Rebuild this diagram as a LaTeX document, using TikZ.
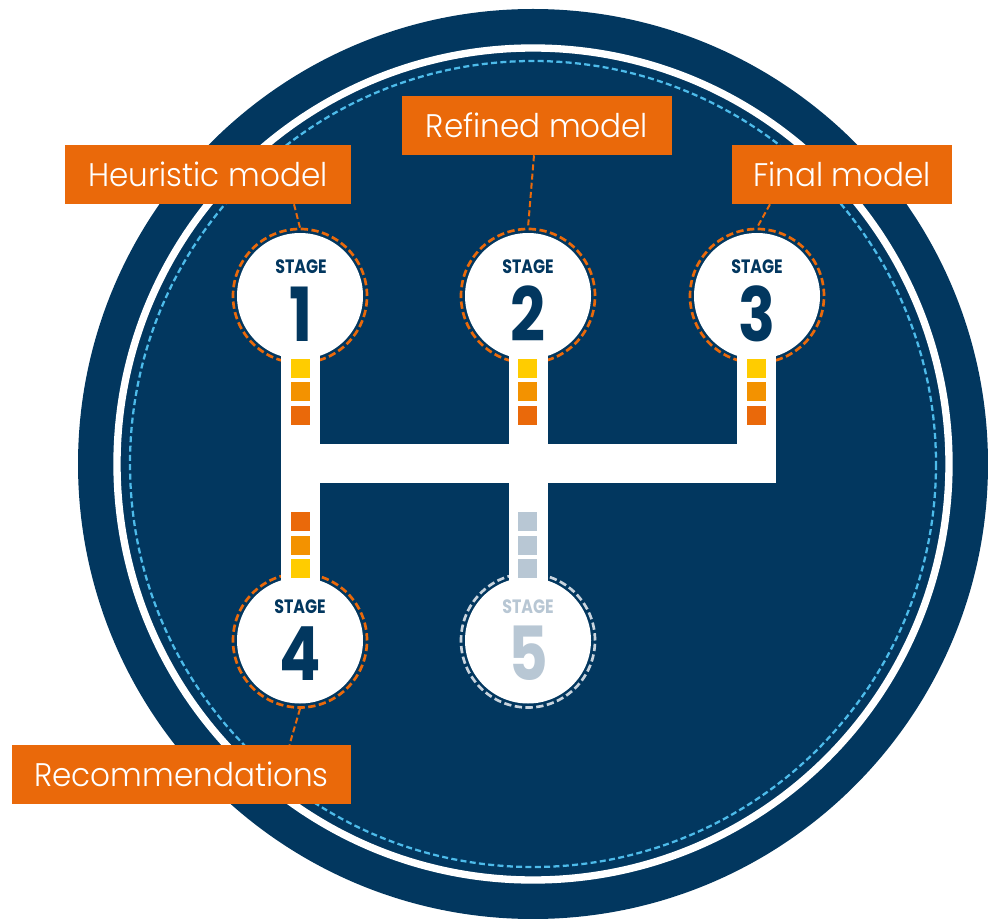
\documentclass[tikz,border=0pt]{standalone}
\usepackage{fontspec}
\setmainfont{Poppins}
\newfontfamily\labelfont{Poppins Light}[FakeStretch=0.95]
\newfontfamily\stagefont{Poppins Bold}[FakeStretch=0.82]
\definecolor{navy}{HTML}{02375F}
\definecolor{boxorange}{HTML}{EA690A}
\definecolor{amber}{HTML}{F39200}
\definecolor{sunyellow}{HTML}{FFCC00}
\definecolor{skyblue}{HTML}{4DBBEA}
\definecolor{paleblue}{HTML}{B8C7D4}
\definecolor{palering}{HTML}{C9D4DE}
\tikzset{
  labelbox/.style={fill=boxorange, text=white, minimum height=44.25pt, inner sep=0pt,
    font=\labelfont\fontsize{24.5}{24.5}\selectfont},
  ringnode/.style={circle, minimum size=100.5pt, inner sep=0pt, line width=2pt,
    dash pattern=on 5.5pt off 2.6pt},
  leader/.style={draw=boxorange, line width=1.5pt, dash pattern=on 4.5pt off 2.4pt},
  stagetxt/.style={anchor=base, inner sep=0pt, font=\stagefont\fontsize{14.5}{14.5}\selectfont},
  numtxt/.style={anchor=base, inner sep=0pt, font=\stagefont\fontsize{56}{56}\selectfont},
  bar/.style={fill=white},
  sq/.style={minimum size=14.25pt, inner sep=0pt},
}
\begin{document}
\begin{tikzpicture}[x=0.75pt,y=-0.75pt]
\useasboundingbox (0,0) rectangle (988,919);
% big disc
\fill[navy] (533,464) circle[radius=455];
\draw[white, line width=5.5pt] (533,464) circle[radius=416];
\draw[skyblue, line width=1.7pt, dash pattern=on 4.5pt off 2.5pt] (533,464) circle[radius=403];

% stage rings
\node[ringnode, draw=boxorange] (s1) at (300,296) {};
\node[ringnode, draw=boxorange] (s2) at (528,296) {};
\node[ringnode, draw=boxorange] (s3) at (757,296) {};
\node[ringnode, draw=boxorange] (s4) at (300,640.5) {};
\node[ringnode, draw=palering] (s5) at (528,640.5) {};
\foreach \s in {s1,s2,s3,s4,s5}{\fill[white] (\s.center) circle[radius=63];}

% white shifter bars
\fill[bar] (281,350) rectangle (320,592);
\fill[bar] (281,444) rectangle (776,483);
\fill[bar] (509,350) rectangle (548,444);
\fill[bar] (737,350) rectangle (776,444);
\fill[bar] (509,483) rectangle (548,592);

% squares
\foreach \x in {300.5,527.5,756.5}{
  \node[sq, fill=sunyellow] at (\x,368.5) {};
  \node[sq, fill=amber] at (\x,392) {};
  \node[sq, fill=boxorange] at (\x,415.5) {};
}
\node[sq, fill=boxorange] at (300.5,521) {};
\node[sq, fill=amber] at (300.5,545) {};
\node[sq, fill=sunyellow] at (300.5,568.5) {};
\node[sq, fill=paleblue] at (527.5,521) {};
\node[sq, fill=paleblue] at (527.5,545) {};
\node[sq, fill=paleblue] at (527.5,568.5) {};

% stage texts
\node[stagetxt, text=navy] (t1) at (301,274) {STAGE};
\node[numtxt, text=navy] (n1) at (301,342) {1};
\node[stagetxt, text=navy] (t2) at (528,274) {STAGE};
\node[numtxt, text=navy] (n2) at (528,342) {2};
\node[stagetxt, text=navy] (t3) at (757,274) {STAGE};
\node[numtxt, text=navy] (n3) at (757,342) {3};
\node[stagetxt, text=navy] (t4) at (300,613) {STAGE};
\node[numtxt, text=navy] (n4) at (300,680) {4};
\node[stagetxt, text=paleblue] (t5) at (528,613) {STAGE};
\node[numtxt, text=paleblue] (n5) at (528,680) {5};

% labels
\node[labelbox, minimum width=214.5pt] (h) at (208,174.5) {Heuristic model};
\node[labelbox, minimum width=202.5pt] (r) at (537,125.5) {Refined model};
\node[labelbox, minimum width=165pt] (f) at (842,174.5) {Final model};
\node[labelbox, minimum width=254.25pt] (rec) at (181.5,774.5) {Recommendations};

% leaders
\draw[leader] ([xshift=64.5pt]h.south) -- (s1.north);
\draw[leader] ([xshift=-2.25pt]r.south) -- (s2.north);
\draw[leader] ([xshift=-54pt]f.south) -- (s3.north);
\draw[leader] (s4.south) -- ([xshift=81pt]rec.north);
\end{tikzpicture}
\end{document}
